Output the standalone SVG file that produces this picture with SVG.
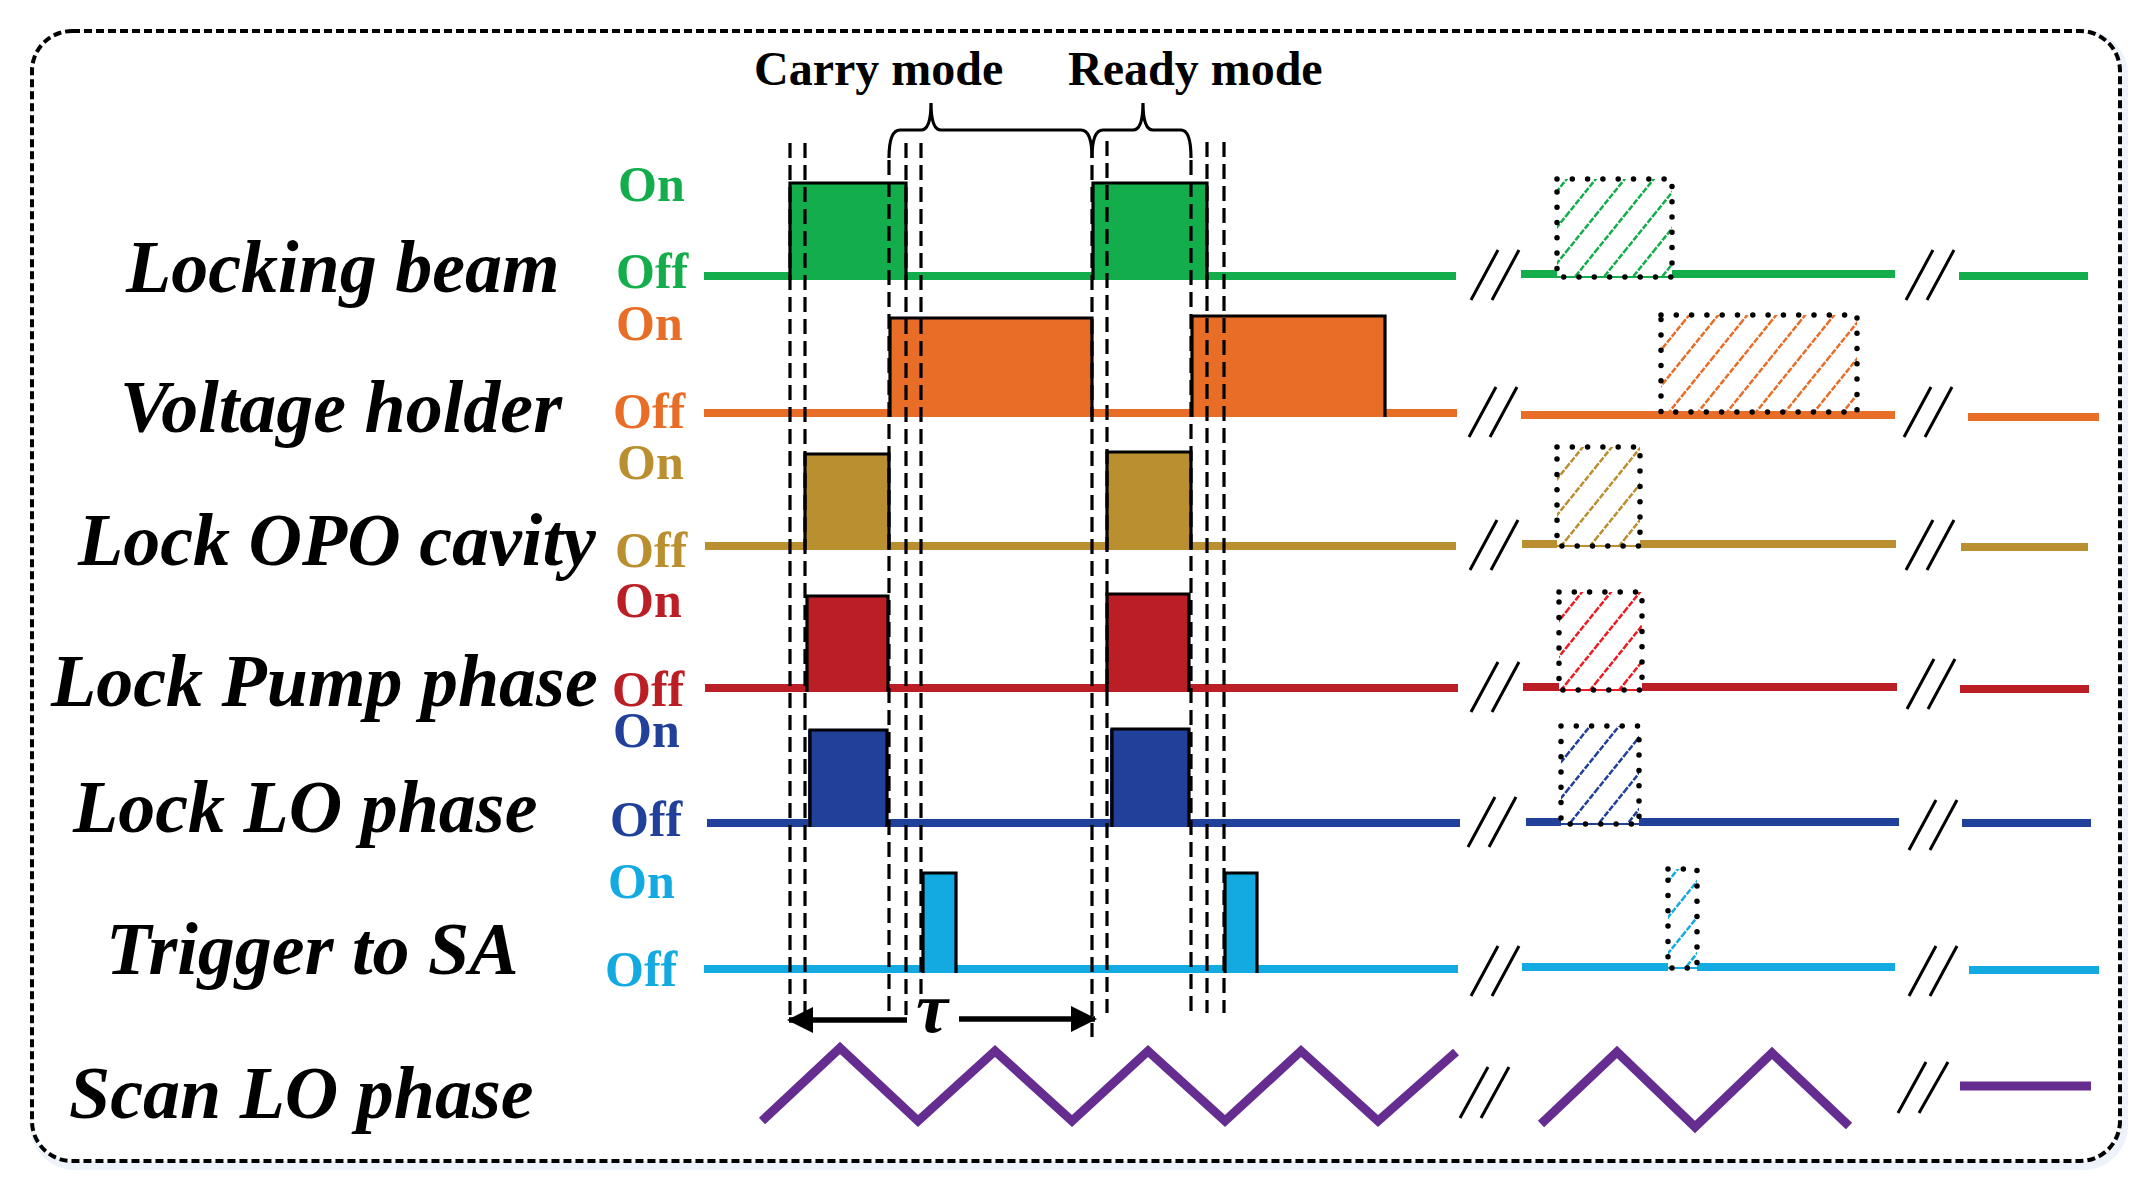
<svg xmlns="http://www.w3.org/2000/svg" width="2150" height="1200" viewBox="0 0 2150 1200">
<style>
.lbl{font-family:"Liberation Serif","Times New Roman",serif;font-weight:bold;font-style:italic;font-size:74px;fill:#000}
.oo{font-family:"Liberation Serif","Times New Roman",serif;font-weight:bold;font-size:50px}
.hdr{font-family:"Liberation Serif","Times New Roman",serif;font-weight:bold;font-size:48px;fill:#000}
.sig{stroke-width:8;fill:none;stroke-linecap:butt}
.edge{fill:none;stroke:#000;stroke-width:3.2;stroke-linejoin:miter}
.brk{stroke:#000;stroke-width:3;fill:none}
.guide{stroke:#000;stroke-width:3.2;stroke-dasharray:15 7;fill:none}
.dot{stroke:#000;stroke-width:5.5;stroke-dasharray:0 15.3;stroke-linecap:round}
.thin{stroke-width:2}
.arr{stroke:#000;stroke-width:5.5;fill:none}
.hl{stroke-width:2.5;stroke-dasharray:6 1.5}
</style>
<defs>
<pattern id="hg" patternUnits="userSpaceOnUse" width="29" height="36"><path class="hl" d="M0,36 L29,0 M-3,3.7 L3,-3.7 M26,39.7 L32,32.3" stroke="#13AD4B"/></pattern>
<pattern id="ho" patternUnits="userSpaceOnUse" width="29" height="36"><path class="hl" d="M0,36 L29,0 M-3,3.7 L3,-3.7 M26,39.7 L32,32.3" stroke="#E86E28"/></pattern>
<pattern id="hy" patternUnits="userSpaceOnUse" width="29" height="36"><path class="hl" d="M0,36 L29,0 M-3,3.7 L3,-3.7 M26,39.7 L32,32.3" stroke="#B98F30"/></pattern>
<pattern id="hr" patternUnits="userSpaceOnUse" width="29" height="36"><path class="hl" d="M0,36 L29,0 M-3,3.7 L3,-3.7 M26,39.7 L32,32.3" stroke="#ED1C24"/></pattern>
<pattern id="hb" patternUnits="userSpaceOnUse" width="29" height="36"><path class="hl" d="M0,36 L29,0 M-3,3.7 L3,-3.7 M26,39.7 L32,32.3" stroke="#21409A"/></pattern>
<pattern id="hc" patternUnits="userSpaceOnUse" width="29" height="36"><path class="hl" d="M0,36 L29,0 M-3,3.7 L3,-3.7 M26,39.7 L32,32.3" stroke="#13AAE1"/></pattern>
<marker id="ah" viewBox="0 0 26 26" refX="24" refY="13" markerWidth="26" markerHeight="26" markerUnits="userSpaceOnUse" orient="auto-start-reverse"><path d="M0,0 L26,13 L0,26 Z" fill="#000"/></marker>
</defs>
<rect width="2150" height="1200" fill="#fff"/>
<rect x="35" y="35" width="2088" height="1130" rx="40" fill="none" stroke="#eef3fb" stroke-width="10"/>
<rect x="32" y="31" width="2088" height="1130" rx="40" fill="#fff" stroke="#000" stroke-width="4" stroke-dasharray="8 4"/>

<g id="header">
<text class="hdr" x="754" y="85">Carry mode</text>
<text class="hdr" x="1068" y="85">Ready mode</text>
</g>

<g id="locking-beam">
<text class="lbl" x="126" y="292">Locking beam</text>
<text class="oo" x="618" y="201" fill="#13AD4B">On</text>
<text class="oo" x="616" y="288" fill="#13AD4B">Off</text>
<g stroke="#13AD4B" class="sig">
<line x1="704" y1="276" x2="1456" y2="276"/>
<line x1="1521" y1="274" x2="1557" y2="274"/><line x1="1672" y1="274" x2="1895" y2="274"/>
<line x1="1959" y1="276" x2="2088" y2="276"/>
</g>
<rect x="790" y="183" width="116" height="97" fill="#13AD4B"/>
<rect x="1093" y="183" width="114" height="97" fill="#13AD4B"/>
<path class="edge" d="M790,280 V183 H906 V280 M1093,280 V183 H1207 V280"/>
<rect x="1557" y="179" width="115" height="97" fill="url(#hg)"/>
<line x1="1557" y1="277" x2="1672" y2="277" stroke="#13AD4B" class="thin"/>
<rect x="1557" y="179" width="115" height="98" fill="none" class="dot"/>
<path class="brk" d="M1471,300 L1498,250 M1492,300 L1519,250 M1906,300 L1933,250 M1927,300 L1954,250"/>
</g>

<g id="voltage-holder">
<text class="lbl" x="120" y="432">Voltage holder</text>
<text class="oo" x="616" y="340" fill="#E86E28">On</text>
<text class="oo" x="613" y="428" fill="#E86E28">Off</text>
<g stroke="#E86E28" class="sig">
<line x1="704" y1="413" x2="1457" y2="413"/>
<line x1="1521" y1="415" x2="1895" y2="415"/>
<line x1="1968" y1="417" x2="2099" y2="417"/>
</g>
<rect x="890" y="318" width="202" height="99" fill="#E86E28"/>
<rect x="1192" y="316" width="193" height="101" fill="#E86E28"/>
<path class="edge" d="M890,417 V318 H1092 V417 M1192,417 V316 H1385 V417"/>
<rect x="1661" y="315" width="196" height="97" fill="url(#ho)"/>
<rect x="1661" y="315" width="196" height="97" fill="none" class="dot"/>
<path class="brk" d="M1469,437 L1496,387 M1490,437 L1517,387 M1904,437 L1931,387 M1925,437 L1952,387"/>
</g>

<g id="lock-opo-cavity">
<text class="lbl" x="78" y="565">Lock OPO cavity</text>
<text class="oo" x="617" y="479" fill="#B98F30">On</text>
<text class="oo" x="615" y="567" fill="#B98F30">Off</text>
<g stroke="#B98F30" class="sig">
<line x1="705" y1="546" x2="1456" y2="546"/>
<line x1="1522" y1="544" x2="1557" y2="544"/><line x1="1640" y1="544" x2="1896" y2="544"/>
<line x1="1961" y1="547" x2="2088" y2="547"/>
</g>
<rect x="805" y="454" width="84" height="96" fill="#B98F30"/>
<rect x="1107" y="452" width="84" height="98" fill="#B98F30"/>
<path class="edge" d="M805,550 V454 H889 V550 M1107,550 V452 H1191 V550"/>
<rect x="1557" y="447" width="83" height="98" fill="url(#hy)"/>
<line x1="1557" y1="546" x2="1640" y2="546" stroke="#B98F30" class="thin"/>
<rect x="1557" y="447" width="83" height="99" fill="none" class="dot"/>
<path class="brk" d="M1470,570 L1497,520 M1491,570 L1518,520 M1906,570 L1933,520 M1927,570 L1954,520"/>
</g>

<g id="lock-pump-phase">
<text class="lbl" x="51" y="706">Lock Pump phase</text>
<text class="oo" x="615" y="617" fill="#BB1E24">On</text>
<text class="oo" x="612" y="706" fill="#BB1E24">Off</text>
<g stroke="#BB1E24" class="sig">
<line x1="705" y1="688" x2="1458" y2="688"/>
<line x1="1523" y1="687" x2="1559" y2="687"/><line x1="1642" y1="687" x2="1897" y2="687"/>
<line x1="1960" y1="689" x2="2089" y2="689"/>
</g>
<rect x="807" y="596" width="81" height="96" fill="#BB1E24"/>
<rect x="1107" y="594" width="82" height="98" fill="#BB1E24"/>
<path class="edge" d="M807,692 V596 H888 V692 M1107,692 V594 H1189 V692"/>
<rect x="1559" y="592" width="83" height="97" fill="url(#hr)"/>
<line x1="1559" y1="690" x2="1642" y2="690" stroke="#ED1C24" class="thin"/>
<rect x="1559" y="592" width="83" height="98" fill="none" class="dot"/>
<path class="brk" d="M1471,712 L1498,662 M1492,712 L1519,662 M1907,709 L1934,659 M1928,709 L1955,659"/>
</g>

<g id="lock-lo-phase">
<text class="lbl" x="73" y="832">Lock LO phase</text>
<text class="oo" x="613" y="747" fill="#21409A">On</text>
<text class="oo" x="610" y="836" fill="#21409A">Off</text>
<g stroke="#21409A" class="sig">
<line x1="707" y1="823" x2="1460" y2="823"/>
<line x1="1526" y1="822" x2="1561" y2="822"/><line x1="1639" y1="822" x2="1899" y2="822"/>
<line x1="1962" y1="823" x2="2091" y2="823"/>
</g>
<rect x="808" y="730" width="79" height="97" fill="#21409A"/>
<rect x="1110" y="729" width="79" height="98" fill="#21409A"/>
<path class="edge" d="M810,827 V730 H887 V827 M1112,827 V729 H1189 V827"/>
<rect x="1561" y="726" width="78" height="97" fill="url(#hb)"/>
<line x1="1561" y1="824" x2="1639" y2="824" stroke="#21409A" class="thin"/>
<rect x="1561" y="726" width="78" height="98" fill="none" class="dot"/>
<path class="brk" d="M1468,847 L1495,797 M1489,847 L1516,797 M1909,850 L1936,800 M1930,850 L1957,800"/>
</g>

<g id="trigger-to-sa">
<text class="lbl" x="106" y="974">Trigger to SA</text>
<text class="oo" x="608" y="898" fill="#13AAE1">On</text>
<text class="oo" x="605" y="986" fill="#13AAE1">Off</text>
<g stroke="#13AAE1" class="sig">
<line x1="704" y1="969" x2="1458" y2="969"/>
<line x1="1522" y1="967" x2="1668" y2="967"/><line x1="1697" y1="967" x2="1895" y2="967"/>
<line x1="1969" y1="970" x2="2099" y2="970"/>
</g>
<rect x="923" y="873" width="33" height="100" fill="#13AAE1"/>
<rect x="1225" y="873" width="32" height="100" fill="#13AAE1"/>
<path class="edge" d="M923,973 V873 H956 V973 M1225,973 V873 H1257 V973"/>
<rect x="1668" y="869" width="29" height="99" fill="url(#hc)"/>
<line x1="1668" y1="968" x2="1697" y2="968" stroke="#13AAE1" class="thin"/>
<rect x="1668" y="869" width="29" height="99" fill="none" class="dot"/>
<path class="brk" d="M1471,996 L1498,946 M1492,996 L1519,946 M1909,996 L1936,946 M1930,996 L1957,946"/>
</g>

<g id="scan-lo-phase">
<text class="lbl" x="69" y="1118">Scan LO phase</text>
<polyline points="762,1121 840,1048 918,1121 995,1051 1072,1121 1148,1051 1225,1121 1301,1051 1378,1121 1456,1052" fill="none" stroke="#662D91" stroke-width="9" stroke-linejoin="miter"/>
<polyline points="1541,1124 1617,1052 1695,1127 1772,1053 1849,1126" fill="none" stroke="#662D91" stroke-width="9" stroke-linejoin="miter"/>
<line x1="1960" y1="1086" x2="2091" y2="1086" stroke="#662D91" stroke-width="9"/>
<path class="brk" stroke-width="2.4" d="M1460,1118 L1488,1067 M1481,1118 L1509,1067 M1898,1113 L1926,1062 M1919,1113 L1948,1062"/>
</g>

<g id="connectors">
<g class="guide">
<line x1="790" y1="143" x2="790" y2="1015"/>
<line x1="805" y1="143" x2="805" y2="1015"/>
<line x1="889" y1="160" x2="889" y2="1015"/>
<line x1="906" y1="143" x2="906" y2="1015"/>
<line x1="921" y1="143" x2="921" y2="997"/>
<line x1="1092" y1="165" x2="1092" y2="1037"/>
<line x1="1107" y1="141" x2="1107" y2="1013"/>
<line x1="1191" y1="160" x2="1191" y2="1013"/>
<line x1="1207" y1="142" x2="1207" y2="1013"/>
<line x1="1224" y1="142" x2="1224" y2="1013"/>
</g>
<path d="M889,158 Q889,130 900,130 L921,130 Q931,130 931,103 Q931,130 941,130 L1081,130 Q1092,130 1092,158" fill="none" stroke="#000" stroke-width="3.2"/>
<path d="M1092,158 Q1092,130 1103,130 L1133,130 Q1143,130 1143,103 Q1143,130 1153,130 L1181,130 Q1191,130 1191,158" fill="none" stroke="#000" stroke-width="3.2"/>
<line class="arr" x1="907" y1="1020" x2="789" y2="1020" marker-end="url(#ah)"/>
<line class="arr" x1="959" y1="1019" x2="1095" y2="1019" marker-end="url(#ah)"/>
<text x="916" y="1032" font-family="Liberation Serif, Times New Roman, serif" font-weight="bold" font-style="italic" font-size="72" fill="#000">τ</text>
</g>
</svg>
